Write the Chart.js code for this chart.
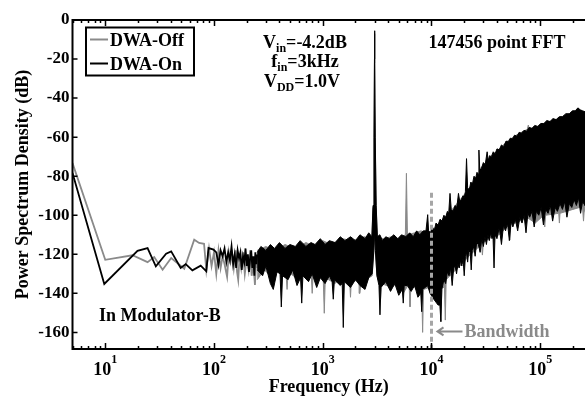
<!DOCTYPE html>
<html>
<head>
<meta charset="utf-8">
<script src="https://cdn.jsdelivr.net/npm/chart.js@4/dist/chart.umd.min.js"></script>
<style>
  html, body { margin: 0; padding: 0; background: #fff; }
  #wrap { width: 585px; height: 396px; }
</style>
</head>
<body>
<div id="wrap"><canvas id="psd" width="585" height="396"></canvas></div>
<script>
// DWA-Off, low frequency bins (Hz, dB)
const offLine = [[5,-73.3],[10,-122.8],[17.8,-120.5],[24.5,-124],[28.2,-121.4],[33.7,-127.9],[40.4,-121.9],[53.3,-127.4],
  [65.8,-112.5],[73,-114.2],[81,-114.6],[85,-128],[90,-117],[95,-126],[100,-119],[105,-130],[110,-118],[115,-127],
  [120,-121],[125,-125],[132,-131.5],[137,-119],[142,-124],[147,-120],[152,-127],[158,-118],[163,-129],[167,-133],
  [172,-121],[178,-127],[185,-119],[192,-130],[200,-122],[208,-128],[215,-118],[222,-131],[230,-124],[238,-135.7],
  [245,-121],[250,-127]];

// DWA-On, low frequency bins (Hz, dB)
const onLine = [[5,-78.4],[9.8,-135.2],[19.8,-118.2],[24.5,-116.8],[29.2,-126.2],[36.3,-119.7],[40.4,-118.5],[49.4,-127],
  [55,-125],[63.3,-128.2],[75.5,-125.8],[85,-128.7],[89,-116.8],[99,-117.6],[105,-119],[110,-125.3],[115,-118],[120,-121],
  [125,-117],[130,-124],[135,-119],[140,-123],[145,-116],[150,-125],[155,-120],[160,-127],[165,-118],[170,-122],
  [175,-119],[180,-128],[185,-121],[190,-124],[195,-117],[200,-126],[205,-120],[210,-129],[215,-122],[220,-118],
  [225,-127],[230,-121],[235,-131],[240,-119],[245,-125],[250,-120]];

// dense part of the spectrum, read as top and bottom edges of the trace (Hz, dB)
const onUpper = [[250,-119],[270,-116],[300,-118],[330,-115],[360,-117],[400,-114],[450,-117],[500,-115],[560,-116],
  [620,-113],[700,-116],[780,-114],[850,-115],[950,-112],[1050,-115],[1150,-113],[1300,-114],[1450,-111],[1600,-113],
  [1800,-111],[2000,-113],[2200,-110],[2450,-112],[2650,-109],[2830,-111],[2900,-95],[2960,-60],[2990,-20],[3000,-5.5],
  [3010,-20],[3040,-60],[3100,-95],[3180,-111],[3350,-110],[3550,-113],[3800,-111],[4100,-112],[4500,-110],[4900,-112],
  [5300,-110],[5800,-111],[6300,-109],[6800,-111],[7300,-108],[7800,-110],[8400,-108],[8900,-108],[9230,-99.7],
  [9400,-108],[9800,-109],[10200,-106],[10600,-108],[11000,-104],[11500,-105],[12000,-102],[12500,-103],[13000,-100],
  [13500,-101],[14000,-98],[14400,-99],[14800,-88.8],[15200,-97],[15800,-98],[16500,-95],[17100,-96],[17700,-88.8],
  [18200,-93],[18800,-92],[19500,-90],[20000,-91],[20500,-88],[21000,-71],[21500,-86],[22300,-87],[23000,-83],
  [23800,-84],[24600,-80],[25500,-81],[26200,-78],[26800,-79],[27300,-66.6],[27800,-77],[28800,-76],[30000,-73],
  [31200,-74],[32500,-67.5],[33200,-72],[34200,-69.5],[35500,-70],[37000,-67.5],[38500,-68.5],[40000,-66],
  [42000,-66.5],[44000,-64],[46000,-65],[48500,-62],[51000,-62.5],[53000,-60.5],[55500,-61],[58000,-59],[61000,-59.5],
  [64000,-57.5],[67000,-58],[71000,-56.5],[75000,-57],[79000,-55],[84000,-55.5],[89000,-54],[95000,-54.5],
  [101000,-53],[108000,-53],[115000,-51.5],[123000,-52],[131000,-50.5],[140000,-51],[150000,-49.5],[160000,-49.5],
  [172000,-48],[185000,-48],[198000,-46.5],[210000,-46.5],[222000,-45],[233000,-46],[245000,-46.5],[258000,-47]];

const onLower = [[250,-128],[280,-131],[300,-126],[330,-135],[351,-138],[380,-129],[405,-130],[416,-147],[427,-131],
  [480,-133],[530,-128],[580,-136],[625,-132],[641,-145],[657,-131],[740,-134],[800,-130],[880,-137],[950,-132],
  [1050,-135],[1150,-131],[1220,-134],[1250,-143],[1280,-133],[1450,-136],[1510,-135],[1545,-157.5],[1580,-134],
  [1800,-137],[2000,-133],[2200,-136],[2448,-138],[2650,-132],[2850,-130],[2950,-118],[3000,-108],[3050,-118],
  [3150,-131],[3290,-136],[3360,-151],[3430,-137],[3800,-134],[4200,-139],[4600,-135],[5000,-141],[5390,-138],
  [5500,-145],[5610,-136],[6000,-136],[6500,-139],[7000,-136],[7500,-142],[7970,-140],[8130,-149.4],[8290,-138],
  [9200,-136],[9700,-140],[10500,-143],[11500,-146],[11950,-146],[12200,-154.5],[12450,-138],[13000,-133],
  [13500,-135],[14000,-129],[14500,-131],[15000,-127],[15500,-136],[16000,-127],[16500,-126],[17000,-130],
  [17500,-125],[18000,-127],[18500,-123],[19000,-126],[19500,-122],[20000,-131],[20500,-121],[21000,-119],
  [21500,-124],[22000,-118],[22700,-119],[23200,-128],[23700,-118],[24500,-116],[25200,-121],[26000,-114],
  [27000,-115],[28000,-119],[29000,-112],[30000,-116],[31000,-111],[32000,-115],[33000,-110],[34000,-113],
  [35000,-109],[36000,-112],[36800,-111],[37600,-127],[38400,-110],[40000,-112],[42000,-106],[44000,-115],
  [46000,-105],[48000,-108],[50000,-104],[52000,-113],[54000,-103],[56000,-106],[59000,-102],[62000,-108],
  [65000,-101],[68000,-104],[71000,-100],[74000,-109],[77000,-99],[80000,-101],[84000,-98],[88000,-106],[92000,-98],
  [97000,-100],[102000,-96],[107000,-105],[112000,-97],[118000,-99],[124000,-95],[130000,-103],[137000,-96],
  [144000,-98],[152000,-94],[160000,-97],[168000,-93],[176000,-101],[185000,-94],[195000,-96],[205000,-92],
  [215000,-95],[225000,-91],[235000,-99],[245000,-93],[258000,-95]];

const offUpper = [[250,-118],[300,-116],[360,-118],[450,-115],[560,-117],[700,-114],[850,-116],[1000,-113],[1200,-115],
  [1500,-112],[1900,-113],[2400,-111],[2830,-112],[2900,-96],[2960,-62],[2990,-22],[3000,-7],[3010,-22],[3040,-62],
  [3100,-96],[3180,-112],[3600,-112],[4300,-111],[5000,-112],[5750,-110],[5880,-78.5],[6010,-110],[7000,-109],
  [8000,-108],[9000,-109],[10000,-108],[12000,-104],[15000,-98],[19000,-91],[23000,-85],[27000,-79],[28500,-75.5],
  [31000,-74],[36000,-70],[42000,-66],[50000,-62],[60000,-59],[70000,-57],[76000,-56],[77700,-53.8],[79400,-56],
  [95000,-54.5],[115000,-52.5],[140000,-51],[170000,-49],[200000,-47.5],[230000,-47],[258000,-48]];

const offLower = [[250,-133],[290,-128],[330,-131],[380,-127],[460,-130],[470,-138],[480,-129],[600,-133],[700,-130],
  [785,-131],[800,-140],[815,-131],[1010,-132],[1033,-150.2],[1056,-132],[1300,-135],[1500,-131],[1765,-133],
  [1800,-142],[1835,-133],[2160,-134],[2200,-140],[2240,-134],[2500,-133],[2850,-131],[2950,-119],[3000,-109],
  [3050,-119],[3150,-131],[3330,-135],[3400,-143],[3470,-135],[4300,-137],[5000,-134],[5500,-140],[6220,-135],
  [6350,-146.9],[6480,-135],[7000,-137],[7700,-140],[8130,-138],[8290,-160],[8450,-138],[9500,-137],[10500,-141],
  [11950,-140],[12200,-154.5],[12450,-137],[13150,-137],[13400,-153.7],[13650,-133],[16000,-129],[19000,-125],
  [22000,-121],[28800,-115],[29400,-120.4],[30000,-114],[36000,-111],[42000,-110],[51500,-105],[52600,-112.7],
  [53700,-105],[65000,-103],[75000,-101],[90000,-104],[108000,-100],[110000,-106],[112000,-100],[148000,-99],
  [150000,-104],[152000,-99],[200000,-97],[230000,-96],[245000,-96],[250000,-103],[255000,-96],[258000,-98]];

// signal bandwidth marker
const bandwidthLine = [[10000,-88.5],[10000,-168.5]];

const xDecades = [1, 10, 100, 1000, 10000, 100000];
const yTickValues = [0, -20, -40, -60, -80, -100, -120, -140, -160];

const SERIF = "'Liberation Serif', 'Times New Roman', serif";
const GRAY = '#8a8a8a';

const pts = arr => arr.map(p => ({x: p[0], y: p[1]}));
// closed outline: along the top edge, back along the bottom edge
const outline = (top, bottom) => pts(top).concat(pts(bottom.slice().reverse()));

function richText(ctx, parts, x, y, align) {
  let w = 0;
  parts.forEach(p => {
    ctx.font = 'bold ' + (p[1] ? 12 : 18) + 'px ' + SERIF;
    w += ctx.measureText(p[0]).width;
  });
  let cx = align === 'center' ? x - w / 2 : x;
  ctx.textAlign = 'left';
  ctx.textBaseline = 'alphabetic';
  parts.forEach(p => {
    ctx.font = 'bold ' + (p[1] ? 12 : 18) + 'px ' + SERIF;
    ctx.fillText(p[0], cx, y + (p[1] === 'sub' ? 4 : p[1] === 'sup' ? -12 : 0));
    cx += ctx.measureText(p[0]).width;
  });
}

const decor = {
  id: 'decor',
  afterDraw(chart) {
    const {ctx, chartArea: a, scales: {x, y}} = chart;
    ctx.save();
    ctx.strokeStyle = '#000';
    ctx.fillStyle = '#000';

    // ticks pointing inward
    ctx.lineWidth = 1.5;
    ctx.beginPath();
    x.ticks.forEach(t => {
      const px = Math.round(x.getPixelForValue(t.value)) + 0.5;
      const len = t.major ? 6 : 3;
      ctx.moveTo(px, a.bottom); ctx.lineTo(px, a.bottom - len);
      ctx.moveTo(px, a.top); ctx.lineTo(px, a.top + len);
    });
    y.ticks.forEach(t => {
      const py = y.getPixelForValue(t.value);
      ctx.moveTo(a.left, py); ctx.lineTo(a.left + 5, py);
    });
    ctx.stroke();

    // axes box
    ctx.lineWidth = 2;
    ctx.beginPath();
    ctx.moveTo(a.right + 2, a.top);
    ctx.lineTo(a.left, a.top);
    ctx.lineTo(a.left, a.bottom);
    ctx.lineTo(a.right + 2, a.bottom);
    ctx.stroke();

    // decade labels 10^n
    x.ticks.filter(t => t.major).forEach(t => {
      const px = x.getPixelForValue(t.value);
      const e = String(Math.round(Math.log10(t.value)));
      ctx.font = 'bold 18px ' + SERIF;
      const w1 = ctx.measureText('10').width;
      ctx.font = 'bold 12px ' + SERIF;
      const w2 = ctx.measureText(e).width;
      richText(ctx, [['10'], [e, 'sup']], px - (w1 + w2) / 2, a.bottom + 26, 'left');
    });

    // legend
    ctx.lineWidth = 2;
    ctx.strokeRect(86, 27.5, 108, 48);
    ctx.strokeStyle = GRAY;
    ctx.beginPath(); ctx.moveTo(90, 39.5); ctx.lineTo(108, 39.5); ctx.stroke();
    ctx.strokeStyle = '#000';
    ctx.beginPath(); ctx.moveTo(90, 63.5); ctx.lineTo(108, 63.5); ctx.stroke();
    richText(ctx, [['DWA-Off']], 110, 45.5, 'left');
    richText(ctx, [['DWA-On']], 110, 69.5, 'left');

    // annotations
    richText(ctx, [['V'], ['in', 'sub'], ['=-4.2dB']], 305, 48, 'center');
    richText(ctx, [['f'], ['in', 'sub'], ['=3kHz']], 305, 67, 'center');
    richText(ctx, [['V'], ['DD', 'sub'], ['=1.0V']], 302, 87, 'center');
    richText(ctx, [['147456 point FFT']], 497, 48, 'center');
    richText(ctx, [['In Modulator-B']], 99, 321, 'left');

    // bandwidth arrow and label
    const bx = x.getPixelForValue(10000) + 5;
    const by = y.getPixelForValue(-159.5);
    ctx.strokeStyle = GRAY;
    ctx.fillStyle = GRAY;
    ctx.lineWidth = 2;
    ctx.beginPath();
    ctx.moveTo(bx + 26, by); ctx.lineTo(bx + 1, by);
    ctx.moveTo(bx + 7, by - 4); ctx.lineTo(bx + 1, by); ctx.lineTo(bx + 7, by + 4);
    ctx.stroke();
    richText(ctx, [['Bandwidth']], bx + 28, by + 6, 'left');
    ctx.restore();
  }
};

new Chart(document.getElementById('psd'), {
  type: 'line',
  data: {
    datasets: [
      {
        label: 'Bandwidth', data: pts(bandwidthLine), order: 0,
        borderColor: '#a6a6a6', borderWidth: 3, borderDash: [5, 3], pointRadius: 0, fill: false
      },
      {
        label: 'DWA-On', data: pts(onLine), order: 1,
        borderColor: '#000', borderWidth: 1.8, pointRadius: 0, fill: false
      },
      {
        label: 'DWA-On band', data: outline(onUpper, onLower), order: 2,
        borderColor: '#000', backgroundColor: '#000', borderWidth: 1, pointRadius: 0, fill: 'shape'
      },
      {
        label: 'DWA-Off', data: pts(offLine), order: 3,
        borderColor: GRAY, borderWidth: 1.8, pointRadius: 0, fill: false
      },
      {
        label: 'DWA-Off band', data: outline(offUpper, offLower), order: 4,
        borderColor: GRAY, backgroundColor: GRAY, borderWidth: 1, pointRadius: 0, fill: 'shape'
      }
    ]
  },
  options: {
    responsive: false,
    animation: false,
    devicePixelRatio: 1,
    layout: { padding: { top: 20, right: 0, left: 0, bottom: 0 } },
    plugins: { legend: { display: false }, tooltip: { enabled: false } },
    elements: { line: { tension: 0 } },
    scales: {
      x: {
        type: 'logarithmic',
        min: 5,
        max: 258000,
        grid: { display: false },
        border: { display: false },
        ticks: { display: false },
        afterBuildTicks(scale) {
          const list = [];
          xDecades.forEach(d => {
            for (let m = 1; m <= 9; m++) {
              const v = d * m;
              if (v >= 5 && v <= 258000) list.push({ value: v, major: m === 1 });
            }
          });
          scale.ticks = list;
        },
        afterFit(scale) { scale.height = 47; },
        title: {
          display: true,
          text: 'Frequency (Hz)',
          color: '#000',
          font: { family: SERIF, size: 18, weight: 'bold', lineHeight: 1 },
          padding: { top: 0, bottom: 0 }
        }
      },
      y: {
        type: 'linear',
        min: -168.5,
        max: 0,
        grid: { display: false, drawTicks: false },
        border: { display: false },
        afterBuildTicks(scale) {
          scale.ticks = yTickValues.map(v => ({ value: v }));
        },
        ticks: {
          color: '#000',
          padding: 3,
          font: { family: SERIF, size: 17, weight: 'bold' }
        },
        afterFit(scale) { scale.width = 72.5; },
        title: {
          display: true,
          text: 'Power Spectrum Density (dB)',
          color: '#000',
          font: { family: SERIF, size: 18, weight: 'bold', lineHeight: 1 },
          padding: { top: 14, bottom: 0 }
        }
      }
    }
  },
  plugins: [decor]
});
</script>
</body>
</html>
